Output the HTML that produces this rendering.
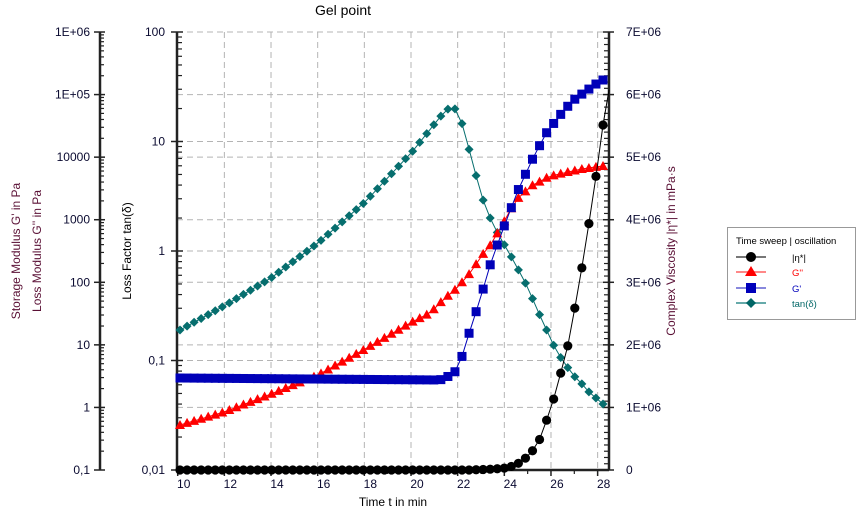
<!DOCTYPE html>
<html><head><meta charset="utf-8"><style>
html,body{margin:0;padding:0;background:#fff;}
svg{display:block;font-family:"Liberation Sans",Arial,sans-serif;}
</style></head><body>
<svg id="s" width="857" height="517" viewBox="0 0 857 517" xmlns="http://www.w3.org/2000/svg">
<text x="343" y="15" font-size="14" text-anchor="middle" fill="#000">Gel point</text>
<g id="grid" stroke="#b4b4b4" stroke-width="1" stroke-dasharray="6,4" fill="none"></g>
<g id="axes" stroke="#222" fill="none"></g>
<g id="labels" font-size="12" fill="#0a0a30"></g>
<g id="series"></g>
<text transform="translate(20,251) rotate(-90)" font-size="12" text-anchor="middle" fill="#5a1035">Storage Modulus  G'  in Pa</text>
<text transform="translate(41,251) rotate(-90)" font-size="12" text-anchor="middle" fill="#5a1035">Loss Modulus  G''  in Pa</text>
<text transform="translate(131,251) rotate(-90)" font-size="12" text-anchor="middle" fill="#000">Loss Factor  tan(δ)</text>
<text transform="translate(675,251) rotate(-90)" font-size="12" text-anchor="middle" fill="#5a1035">Complex Viscosity  |η*|  in mPa·s</text>
<text x="393" y="506" font-size="12" text-anchor="middle" fill="#000">Time  t  in min</text>
<rect x="727.5" y="227.5" width="128" height="92" fill="#fff" stroke="#999"/>
<text x="736" y="244" font-size="9.5" fill="#000">Time sweep | oscillation</text>
<g font-size="9.5">
<line x1="736" y1="257" x2="766" y2="257" stroke="#777" stroke-width="2"/><circle cx="751" cy="257" r="5" fill="#000"/><text x="792" y="261" fill="#000">|η*|</text>
<line x1="736" y1="272" x2="766" y2="272" stroke="#f88" stroke-width="2"/><polygon points="751,266 757,276 745,276" fill="#f00"/><text x="792" y="276" fill="#f00">G''</text>
<line x1="736" y1="288" x2="766" y2="288" stroke="#88d" stroke-width="2"/><rect x="746" y="283" width="10" height="10" fill="#00b"/><text x="792" y="292" fill="#00b">G'</text>
<line x1="736" y1="303" x2="766" y2="303" stroke="#6aa" stroke-width="2"/><polygon points="751,298 756,303 751,308 746,303" fill="#066"/><text x="792" y="307" fill="#066">tan(δ)</text>
</g>
</svg>
<script>
var NS="http://www.w3.org/2000/svg";
function el(p,t,a,txt){var e=document.createElementNS(NS,t);for(var k in a)e.setAttribute(k,a[k]);if(txt!=null)e.textContent=txt;p.appendChild(e);return e;}
var G=document.getElementById("grid"),A=document.getElementById("axes"),L=document.getElementById("labels"),S=document.getElementById("series");
var T=32,B=470,XL=177,XR=609;
function xt(t){return 177.7+23.33*(t-10);}
for(var t=12;t<=28;t+=2)el(G,"line",{x1:xt(t),y1:T,x2:xt(t),y2:B});
for(var k=1;k<=7;k++){var y=470-62.57*k;el(G,"line",{x1:XL,y1:y,x2:XR,y2:y});}
for(var k=1;k<=4;k++){var y=470-109.5*k;el(G,"line",{x1:XL,y1:y,x2:XR,y2:y});}
el(A,"line",{x1:100,y1:T,x2:100,y2:B,"stroke-width":2.5});
var gl=["0,1","1","10","100","1000","10000","1E+05","1E+06"];
for(var k=0;k<=7;k++){var y=470-62.57*k;el(A,"line",{x1:94,y1:y,x2:105,y2:y,"stroke-width":1.5});
el(L,"text",{x:90,y:y+4,"text-anchor":"end"},gl[k]);
if(k<7)for(var m=2;m<=9;m++){var yy=y-62.57*Math.log10(m);el(A,"line",{x1:100,y1:yy,x2:104,y2:yy,"stroke-width":1.2});}}
el(A,"line",{x1:XL,y1:T,x2:XL,y2:B,"stroke-width":2.5});
var tl=["0,01","0,1","1","10","100"];
for(var k=0;k<=4;k++){var y=470-109.5*k;el(A,"line",{x1:171,y1:y,x2:183,y2:y,"stroke-width":1.5});
el(L,"text",{x:165,y:y+4,"text-anchor":"end"},tl[k]);
if(k<4)for(var m=2;m<=9;m++){var yy=y-109.5*Math.log10(m);el(A,"line",{x1:XL,y1:yy,x2:182,y2:yy,"stroke-width":1.2});}}
el(A,"line",{x1:XR,y1:T,x2:XR,y2:B,"stroke-width":2.5});
for(var k=0;k<=7;k++){var y=470-62.57*k;el(A,"line",{x1:603,y1:y,x2:614,y2:y,"stroke-width":1.5});
el(L,"text",{x:626,y:y+4},k==0?"0":k+"E+06");
if(k<7)for(var m=1;m<10;m++){var yy=y-6.257*m;el(A,"line",{x1:604,y1:yy,x2:XR,y2:yy,"stroke-width":1.2});}}
el(A,"line",{x1:XL,y1:B,x2:XR,y2:B,"stroke-width":2.5});
for(var t=10;t<=28;t+=2){var x=xt(t);el(A,"line",{x1:x,y1:B,x2:x,y2:B+6,"stroke-width":1.5});el(L,"text",{x:x+6,y:488,"text-anchor":"middle"},""+t);}
for(var t=11;t<=28;t+=2){var x=xt(t);el(A,"line",{x1:x,y1:B,x2:x,y2:B+4,"stroke-width":1.2});}
function interp(kn,x){if(x<=kn[0][0])return kn[0][1];for(var i=1;i<kn.length;i++){if(x<=kn[i][0]){var a=kn[i-1],b=kn[i];return a[1]+(b[1]-a[1])*(x-a[0])/(b[0]-a[0]);}}return kn[kn.length-1][1];}
var xs=[];for(var k=0;k<=60;k++)xs.push(180+7.05*k);
var blue=[[180,378],[440,380],[449,376],[456,371],[463,354],[470,330],[478,306],[485,283],[491,262],[498,243],[505,224],[512,206],[519,188],[527,171],[534,156],[541,143],[547,132],[554,123],[561,114],[568,106],[575,99],[582,94],[589,89],[596,84],[603,80]];
var red=[[180,425],[224,412],[271,394],[318,375],[365,349],[412,322],[430,313],[443,300],[457,288],[470,273],[483,254],[492,243],[498,232],[505,220],[512,207],[519,197],[527,190],[534,184],[541,181],[548,177],[555,175],[568,172],[582,169],[595,167],[603,166]];
var teal=[[180,330],[224,306],[271,278],[318,243],[365,202],[412,152],[440,117],[449,108],[456,109],[463,126],[470,153],[477,179],[484,203],[491,220],[498,234],[505,246],[512,258],[519,271],[527,286],[534,302],[541,318],[548,333],[554,346],[561,358],[568,368],[575,377],[582,384],[589,392],[596,398],[603,404]];
var black=[[180,470],[470,470],[495,469],[505,468],[513,466],[519,463],[527,457],[534,449],[541,437],[547,419],[554,398],[561,372],[569,341],[575,307],[582,267],[589,223],[596,176],[603,125]];
function series(kn,col,lc,mk,extra){var pts=xs.map(function(x){return [x,interp(kn,x)];});
var d=pts.map(function(p,i){return (i?"L":"M")+p[0].toFixed(1)+","+p[1].toFixed(1);}).join("");if(extra)d+="L"+extra;
el(S,"path",{d:d,fill:"none",stroke:lc,"stroke-width":1});
pts.forEach(function(p){var x=p[0],y=p[1];
if(mk=="c")el(S,"circle",{cx:x,cy:y,r:4.6,fill:col});
else if(mk=="t")el(S,"polygon",{points:x+","+(y-5)+" "+(x+5)+","+(y+4)+" "+(x-5)+","+(y+4),fill:col});
else if(mk=="s")el(S,"rect",{x:x-4.5,y:y-4.5,width:9,height:9,fill:col});
else el(S,"polygon",{points:x+","+(y-4.5)+" "+(x+4.5)+","+y+" "+x+","+(y+4.5)+" "+(x-4.5)+","+y,fill:col});});}
series(teal,"#066e6e","#066e6e","d");
series(red,"#f00","#f00","t");
series(blue,"#0000b8","#0000b8","s");
series(black,"#000","#000","c","609,90");
</script>
</body></html>
